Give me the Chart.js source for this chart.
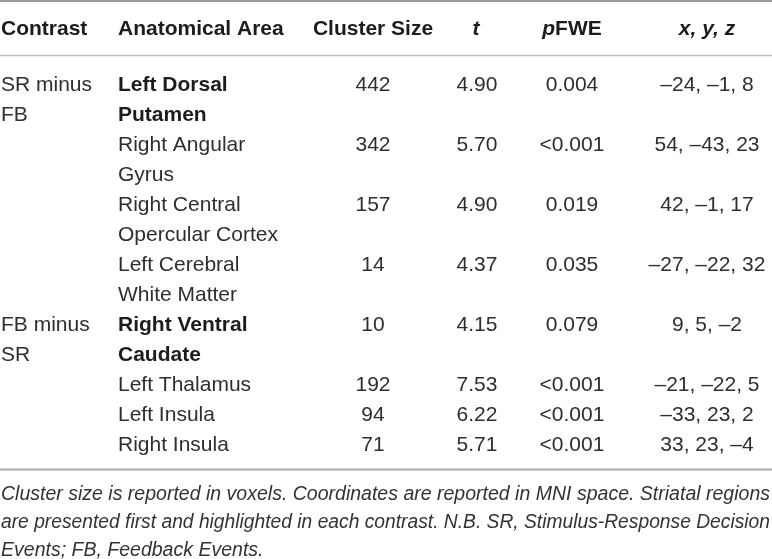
<!DOCTYPE html>
<html><head><meta charset="utf-8">
<script src="https://cdn.jsdelivr.net/npm/chart.js@4"></script>
<style>html,body{margin:0;padding:0;background:#fff;}canvas{display:block}</style>
</head><body>
<canvas id="c" width="772" height="559"></canvas>
<script>
// ---------- DATA ----------
const headers = ["Contrast", "Anatomical Area", "Cluster Size", "t", "pFWE", "x, y, z"];
const contrastLines = [["SR minus", "FB"], ["FB minus", "SR"]];
const contrastFirstEntry = [0, 4];
const areas = [
  ["Left Dorsal", "Putamen"],
  ["Right Angular", "Gyrus"],
  ["Right Central", "Opercular Cortex"],
  ["Left Cerebral", "White Matter"],
  ["Right Ventral", "Caudate"],
  ["Left Thalamus"],
  ["Left Insula"],
  ["Right Insula"]
];
const striatal = [true, false, false, false, true, false, false, false];
const clusterSizes = [442, 342, 157, 14, 10, 192, 94, 71];
const tValues = [4.90, 5.70, 4.90, 4.37, 4.15, 7.53, 6.22, 5.71];
const pFWE = ["0.004", "<0.001", "0.019", "0.035", "0.079", "<0.001", "<0.001", "<0.001"];
const coordsX = [-24, 54, 42, -27, 9, -21, -33, 33];
const coordsY = [-1, -43, -1, -22, 5, -22, 23, 23];
const coordsZ = [8, 23, 17, 32, -2, 5, 2, -4];
const footnoteLines = [
  "Cluster size is reported in voxels. Coordinates are reported in MNI space. Striatal regions",
  "are presented first and highlighted in each contrast. N.B. SR, Stimulus-Response Decision",
  "Events; FB, Feedback Events."
];

// ---------- LAYOUT / STYLE ----------
const FONT = '"Liberation Sans", Arial, Helvetica, sans-serif';
const COL = { contrast: 1, area: 118, cluster: 373, t: 477, p: 572, xyz: 707 };
const HEAD_X = [1, 118, 373, 476, 572, 707];
const HEAD_ALIGN = ["left", "left", "center", "center", "center", "center"];
const ROW_PX = 30, FIRST_BASE = 90.5, H = 559, W = 772;
const Y_MIN = -FIRST_BASE / ROW_PX, Y_MAX = Y_MIN + H / ROW_PX;
const toRow = px => (px - FIRST_BASE) / ROW_PX;
const HEADER_ROW = toRow(35);
const RULES = [
  { y: toRow(1), w: 2, c: "#9a9a9a" },
  { y: toRow(55.5), w: 1.5, c: "#bdbdbd" },
  { y: toRow(469.5), w: 2, c: "#ababab" }
];
const FOOT_ROWS = [toRow(499.5), toRow(527.5), toRow(555.5)];

const fmtNum = n => (n < 0 ? "\u2013" + Math.abs(n) : String(n));

// entry start rows
const entryRow = [];
let r = 0;
areas.forEach(a => { entryRow.push(r); r += a.length; });

const contrastPts = [];
contrastLines.forEach((lines, g) => lines.forEach((t, li) =>
  contrastPts.push({ x: COL.contrast, y: entryRow[contrastFirstEntry[g]] + li, label: t, bold: false })));
const areaPts = [];
areas.forEach((lines, k) => lines.forEach((t, li) =>
  areaPts.push({ x: COL.area, y: entryRow[k] + li, label: t, bold: striatal[k] })));
const clusterPts = clusterSizes.map((v, k) => ({ x: COL.cluster, y: entryRow[k], label: String(v) }));
const tPts = tValues.map((v, k) => ({ x: COL.t, y: entryRow[k], label: v.toFixed(2) }));
const pPts = pFWE.map((v, k) => ({ x: COL.p, y: entryRow[k], label: v }));
const xyzPts = coordsX.map((v, k) => ({ x: COL.xyz, y: entryRow[k],
  label: [coordsX[k], coordsY[k], coordsZ[k]].map(fmtNum).join(", ") }));

const mk = (label, data, align) => ({ label, data, align, pointRadius: 0, pointHoverRadius: 0, showLine: false });

const tablePlugin = {
  id: "tableText",
  beforeDraw(chart) {
    const ctx = chart.ctx;
    ctx.save(); ctx.fillStyle = "#fff"; ctx.fillRect(0, 0, chart.width, chart.height); ctx.restore();
  },
  afterDatasetsDraw(chart) {
    const ctx = chart.ctx, xs = chart.scales.x, ys = chart.scales.y;
    ctx.save();
    // rules
    RULES.forEach(rl => {
      const y = ys.getPixelForValue(rl.y);
      ctx.strokeStyle = rl.c; ctx.lineWidth = rl.w;
      ctx.beginPath(); ctx.moveTo(xs.left, y); ctx.lineTo(xs.right, y); ctx.stroke();
    });
    // headers
    ctx.fillStyle = "#1c1c1c";
    ctx.textBaseline = "alphabetic";
    const hy = ys.getPixelForValue(HEADER_ROW);
    headers.forEach((h, i) => {
      let segs;
      if (h === "t") segs = [["t", "italic bold"]];
      else if (h === "pFWE") segs = [["p", "italic bold"], ["FWE", "bold"]];
      else if (h === "x, y, z") segs = [["x, y, z", "italic bold"]];
      else segs = [[h, "bold"]];
      const widths = segs.map(s => { ctx.font = s[1] + " 21px " + FONT; return ctx.measureText(s[0]).width; });
      const total = widths.reduce((a, b) => a + b, 0);
      let x = xs.getPixelForValue(HEAD_X[i]);
      if (HEAD_ALIGN[i] === "center") x -= total / 2;
      ctx.textAlign = "left";
      segs.forEach((s, j) => { ctx.font = s[1] + " 21px " + FONT; ctx.fillText(s[0], x, hy); x += widths[j]; });
    });
    // cells
    chart.data.datasets.forEach((ds, i) => {
      const meta = chart.getDatasetMeta(i);
      ctx.textAlign = ds.align;
      meta.data.forEach((pt, j) => {
        const d = ds.data[j];
        ctx.font = (d.bold ? "bold " : "") + "21px " + FONT;
        ctx.fillStyle = d.bold ? "#1c1c1c" : "#2e2e2e";
        ctx.fillText(d.label, pt.x, pt.y);
      });
    });
    // footnote
    ctx.font = "italic 20px " + FONT;
    ctx.fillStyle = "#333";
    ctx.textAlign = "left";
    const avail = W - 3;
    const k = avail / ctx.measureText(footnoteLines[0]).width;
    footnoteLines.forEach((t, i) => {
      const y = ys.getPixelForValue(FOOT_ROWS[i]);
      ctx.save();
      ctx.translate(xs.getPixelForValue(1), y);
      ctx.scale(k, 1);
      ctx.fillText(t, 0, 0, avail / k);
      ctx.restore();
    });
    ctx.restore();
  }
};

new Chart(document.getElementById("c"), {
  type: "scatter",
  data: {
    datasets: [
      mk("Contrast", contrastPts, "left"),
      mk("Anatomical Area", areaPts, "left"),
      mk("Cluster Size", clusterPts, "center"),
      mk("t", tPts, "center"),
      mk("pFWE", pPts, "center"),
      mk("x, y, z", xyzPts, "center")
    ]
  },
  options: {
    responsive: false,
    animation: false,
    events: [],
    layout: { padding: 0 },
    plugins: { legend: { display: false }, tooltip: { enabled: false }, title: { display: false } },
    scales: {
      x: { type: "linear", min: 0, max: W, display: false },
      y: { type: "linear", min: Y_MIN, max: Y_MAX, reverse: true, display: false }
    }
  },
  plugins: [tablePlugin]
});
</script>
</body></html>
